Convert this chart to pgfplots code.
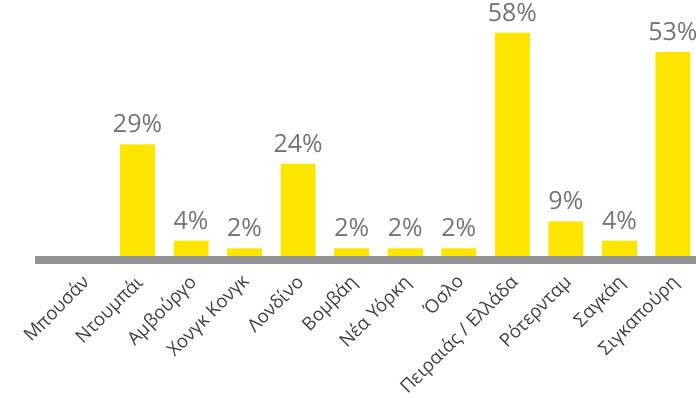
\documentclass[border=0pt]{standalone}
\usepackage{fontspec}
\setmainfont{Open Sans}
\usepackage{pgfplots}
\pgfplotsset{compat=1.18}
\definecolor{eyyellow}{HTML}{FFE600}
\definecolor{bandgray}{HTML}{939396}
\definecolor{valgray}{HTML}{737373}
\definecolor{labgray}{HTML}{404040}
\begin{document}
\begin{tikzpicture}
\useasboundingbox (0,0) rectangle (696pt,397pt);
\begin{axis}[
  at={(35pt,137pt)}, anchor=south west,
  scale only axis,
  width=661pt, height=260pt,
  xmin=-0.915, xmax=11.43,
  ymin=-1.04, ymax=66.49,
  enlargelimits=false,
  clip=false,
  axis x line=bottom,
  axis y line=none,
  x axis line style={-, line width=8pt, draw=bandgray, line cap=butt},
  xtick={0,1,2,3,4,5,6,7,8,9,10,11},
  xticklabels={Μπουσάν, Ντουμπάι, Αμβούργο, Χονγκ Κονγκ, Λονδίνο, Βομβάη, Νέα Υόρκη, Όσλο, Πειραιάς / Ελλάδα, Ρότερνταμ, Σαγκάη, Σιγκαπούρη},
  xtick style={draw=none},
  xticklabel style={xshift=-4pt, yshift=-8.5pt, rotate=45, anchor=north east, text=labgray, font=\fontsize{18.5}{22}\selectfont, inner sep=0pt},
  ybar, bar width=35pt,
  /pgf/number format/assume math mode=true,
  nodes near coords={\pgfmathprintnumber{\pgfplotspointmeta}\%},
  every node near coord/.append style={anchor=base, inner sep=0pt, yshift=11.5pt, text=valgray, font=\fontsize{25}{30}\selectfont},
]
\addplot[fill=eyyellow, draw=none] coordinates {
  (1,29) (2,4) (3,2) (4,24) (5,2) (6,2) (7,2) (8,58) (9,9) (10,4) (11,53)
};
\end{axis}
\end{tikzpicture}
\end{document}
